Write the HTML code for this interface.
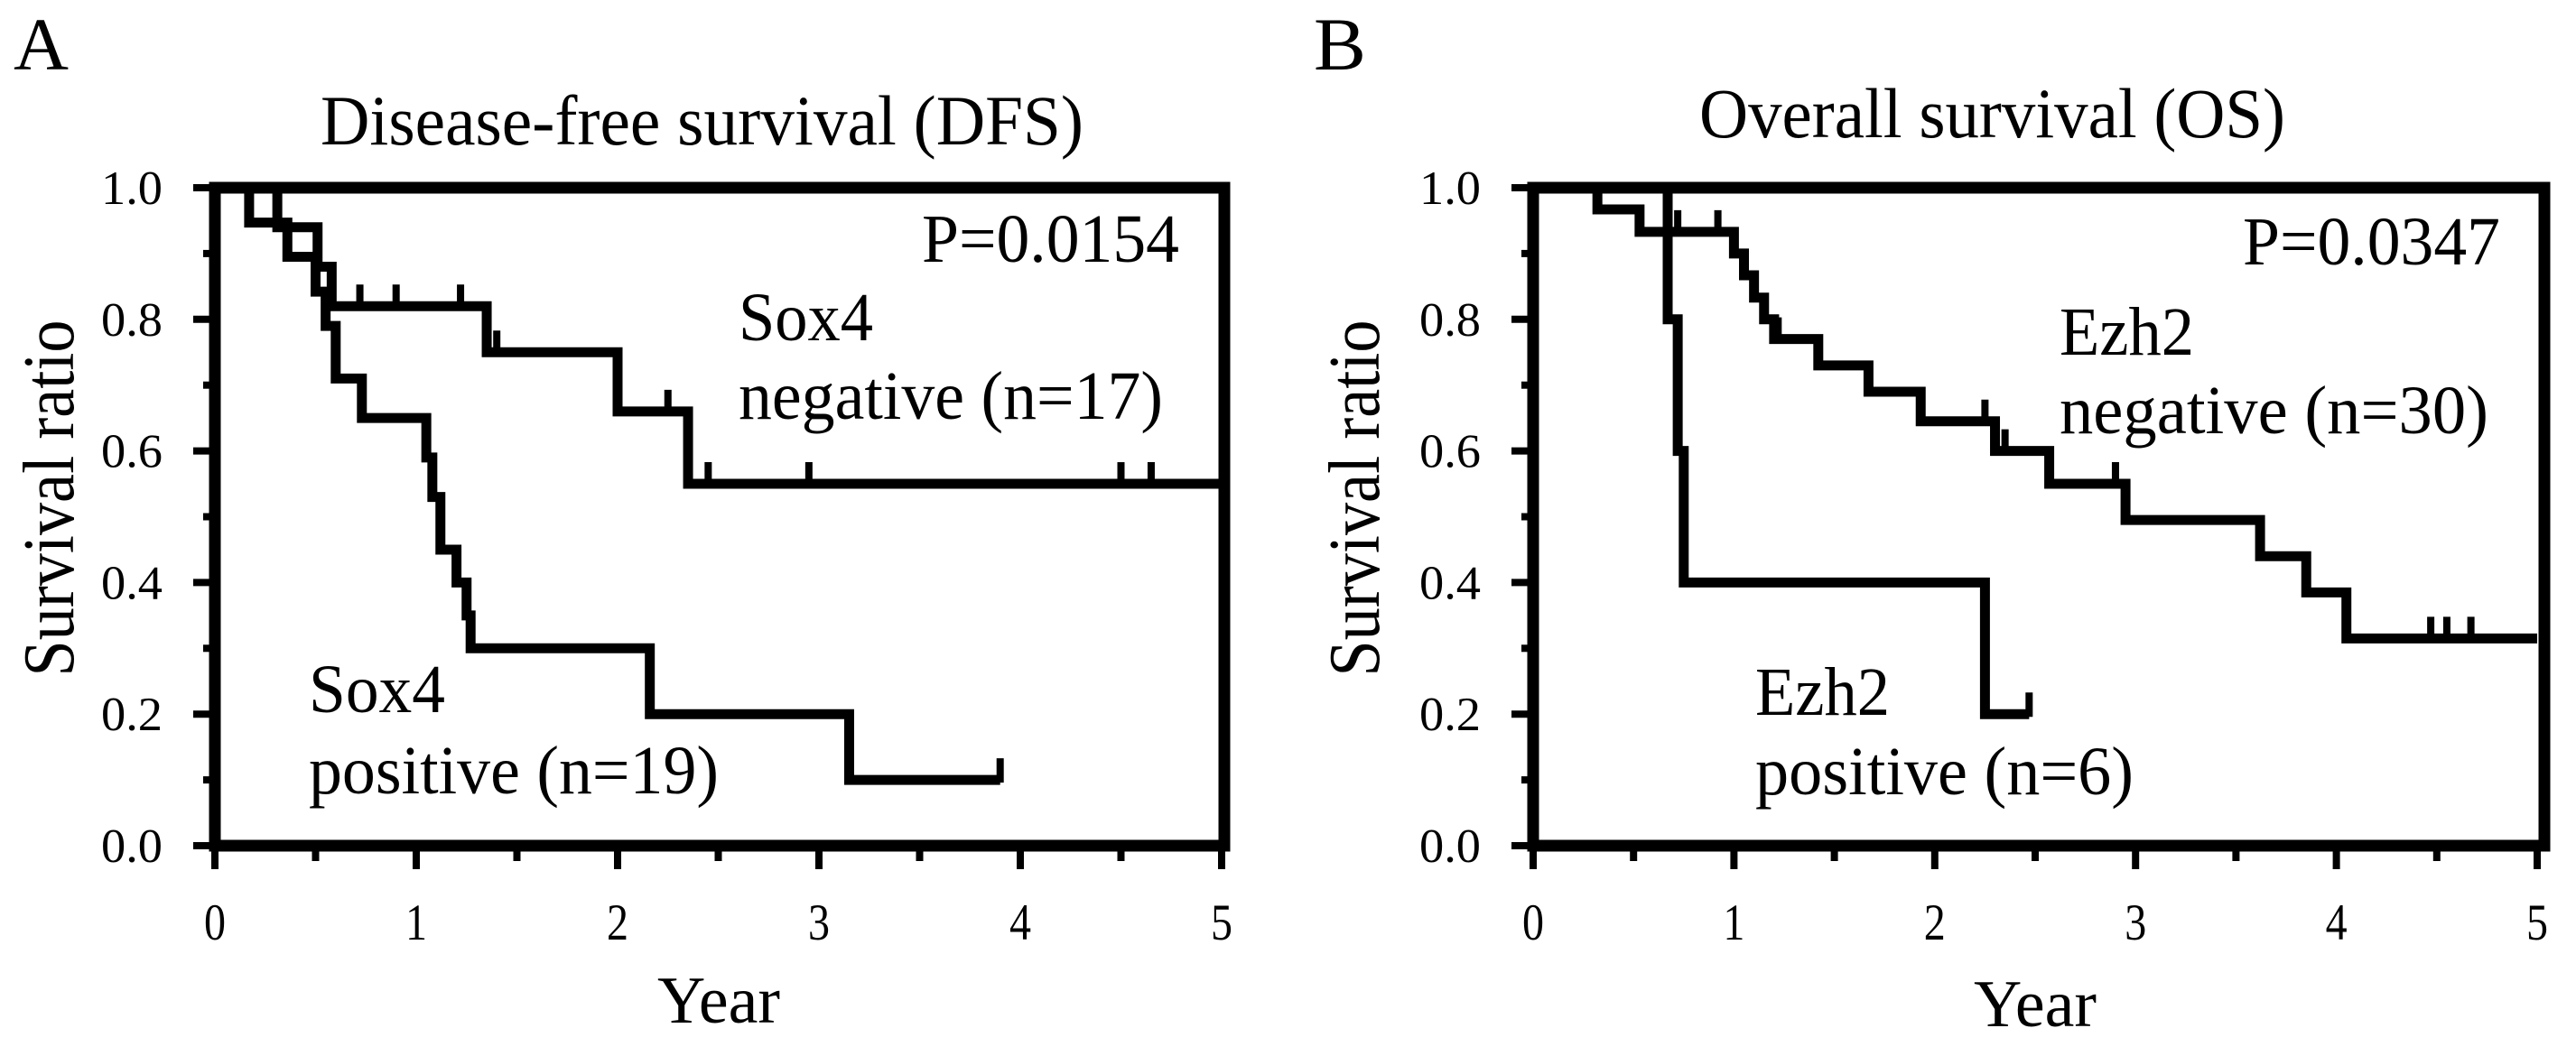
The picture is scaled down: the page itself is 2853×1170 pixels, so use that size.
<!DOCTYPE html>
<html><head><meta charset="utf-8"><style>
html,body{margin:0;padding:0;background:#fff;}
svg{display:block;}
text{font-family:"Liberation Serif",serif;fill:#000;}
</style></head><body>
<svg id="fig" width="2853" height="1170" viewBox="0 0 2853 1170" xmlns="http://www.w3.org/2000/svg"></svg>
<script>
// Panel A data (DFS)
const aNegTimes = [0.31, 0.51, 0.58, 1.35, 2.0, 2.35];
const aNegSurv = [0.94, 0.88, 0.82, 0.75, 0.66, 0.55];
const aNegCensor = [0.72, 0.9, 1.22, 1.4, 2.25, 2.45, 2.95, 4.5, 4.65];
const aNegEnd = 5;
const aPosTimes = [0.17, 0.36, 0.5, 0.55, 0.6, 0.73, 1.05, 1.08, 1.12, 1.2, 1.25, 1.27, 2.16, 3.15];
const aPosSurv = [0.947, 0.895, 0.842, 0.79, 0.71, 0.65, 0.59, 0.53, 0.45, 0.40, 0.35, 0.30, 0.20, 0.10];
const aPosCensor = [3.9];
const aPosEnd = 3.9;
// Panel B data (OS)
const bNegTimes = [0.32, 0.53, 1.0, 1.05, 1.1, 1.15, 1.2, 1.42, 1.67, 1.93, 2.3, 2.57, 2.95, 3.62, 3.85, 4.05];
const bNegSurv = [0.967, 0.933, 0.9, 0.867, 0.833, 0.8, 0.77, 0.73, 0.69, 0.645, 0.60, 0.55, 0.495, 0.44, 0.385, 0.315];
const bNegCensor = [0.72, 0.92, 1.22, 2.25, 2.35, 2.9, 4.47, 4.55, 4.67];
const bNegEnd = 5;
const bPosTimes = [0.67, 0.72, 0.75, 2.25];
const bPosSurv = [0.8, 0.6, 0.4, 0.2];
const bPosCensor = [2.47];
const bPosEnd = 2.47;
// Axis ticks
const xTickLabels = ["0", "1", "2", "3", "4", "5"];
const yTickLabels = ["0.0", "0.2", "0.4", "0.6", "0.8", "1.0"];

const svg = document.getElementById('fig');
const NS = 'http://www.w3.org/2000/svg';
function mk(tag, attrs, parent) {
  const e = document.createElementNS(NS, tag);
  for (const k in attrs) e.setAttribute(k, attrs[k]);
  (parent || svg).appendChild(e);
  return e;
}
function txt(str, attrs, parent) { const t = mk('text', attrs, parent); t.textContent = str; return t; }

const TOP = 208, BOT = 937;
function survAt(times, surv, t) { let s = 1; for (let i = 0; i < times.length; i++) if (times[i] <= t) s = surv[i]; return s; }

function panel(cfg) {
  const g = mk('g', {});
  
  
  const x = v => cfg.x0 + v * (cfg.x5 - cfg.x0) / 5;
  const y = v => BOT - v * (BOT - TOP);
  const fr = mk('rect', {x: cfg.x0, y: TOP, width: cfg.right - cfg.x0, height: BOT - TOP, fill: 'none', stroke: '#000', 'stroke-width': 13}, g);
  
  
  for (let i = 0; i <= 10; i++) {
    const v = i / 10, major = i % 2 === 0;
    const tk = mk('line', {x1: cfg.x0 - (major ? 24 : 13), x2: cfg.x0, y1: y(v), y2: y(v), stroke: '#000', 'stroke-width': 8}, g);
    
    
  }
  yTickLabels.forEach((lab, i) => {
    const t = txt(lab, {x: cfg.x0 - 58, y: y(i * 0.2) + 18, 'font-size': 53, 'text-anchor': 'end', textLength: 68, lengthAdjust: 'spacingAndGlyphs'}, g);
    
    
  });
  for (let i = 0; i <= 10; i++) {
    const v = i / 2, major = i % 2 === 0;
    const tk = mk('line', {x1: x(v), x2: x(v), y1: BOT, y2: BOT + (major ? 26 : 17), stroke: '#000', 'stroke-width': 8}, g);
    
    
  }
  xTickLabels.forEach((lab, i) => {
    const t = txt(lab, {x: x(i), y: 1041, 'font-size': 57, 'text-anchor': 'middle', textLength: 24, lengthAdjust: 'spacingAndGlyphs'}, g);
    
    
  });
  cfg.series.forEach(s => {
    let d = `M${x(0)},${y(1)}`;
    s.times.forEach((t, i) => { d += ` H${x(t)} V${y(s.surv[i])}`; });
    d += ` H${x(s.end)}`;
    const p = mk('path', {d: d, fill: 'none', stroke: '#000', 'stroke-width': 11, 'stroke-linejoin': 'miter'}, g);
    
    
    s.censor.forEach(c => {
      const sv = survAt(s.times, s.surv, c);
      const m = mk('line', {x1: x(c), x2: x(c), y1: y(sv) + 3, y2: y(sv) - 24, stroke: '#000', 'stroke-width': 8}, g);
      
      
    });
  });
  cfg.labels.forEach(l => {
    const t = txt(l.s, {x: l.x, y: l.y, 'font-size': l.fs, 'text-anchor': l.a || 'start', textLength: l.w, lengthAdjust: 'spacingAndGlyphs'}, g);
    
    
  });
  const yl = txt('Survival ratio', {x: 0, y: 0, 'font-size': 80, 'text-anchor': 'middle', textLength: 395, lengthAdjust: 'spacingAndGlyphs', transform: `translate(${cfg.ylx},552) rotate(-90)`}, g);
  
  
}

panel({
  name: 'panel-a', x0: 238, x5: 1353, right: 1356, ylx: 81,
  series: [
    {name: 'sox4-negative-curve', times: aNegTimes, surv: aNegSurv, censor: aNegCensor, end: aNegEnd},
    {name: 'sox4-positive-curve', times: aPosTimes, surv: aPosSurv, censor: aPosCensor, end: aPosEnd}
  ],
  labels: [
    {s: 'A', x: 15, y: 77, fs: 83, w: 61, n: 'panel-letter'},
    {s: 'Disease-free survival (DFS)', x: 355, y: 160, fs: 78, w: 845, n: 'chart-title'},
    {s: 'P=0.0154', x: 1306, y: 290, fs: 76, w: 285, a: 'end', n: 'p-value'},
    {s: 'Sox4', x: 818, y: 377, fs: 76, w: 149, n: 'negative-label'},
    {s: 'negative (n=17)', x: 818, y: 464, fs: 76, w: 470, n: 'negative-label-n'},
    {s: 'Sox4', x: 342, y: 789, fs: 76, w: 151, n: 'positive-label'},
    {s: 'positive (n=19)', x: 342, y: 879, fs: 76, w: 454, n: 'positive-label-n'},
    {s: 'Year', x: 796, y: 1133, fs: 74, w: 136, a: 'middle', n: 'x-axis-title'}
  ]
});
panel({
  name: 'panel-b', x0: 1698, x5: 2810, right: 2818, ylx: 1527,
  series: [
    {name: 'ezh2-negative-curve', times: bNegTimes, surv: bNegSurv, censor: bNegCensor, end: bNegEnd},
    {name: 'ezh2-positive-curve', times: bPosTimes, surv: bPosSurv, censor: bPosCensor, end: bPosEnd}
  ],
  labels: [
    {s: 'B', x: 1455, y: 77, fs: 83, w: 58, n: 'panel-letter'},
    {s: 'Overall survival (OS)', x: 1882, y: 152, fs: 78, w: 649, n: 'chart-title'},
    {s: 'P=0.0347', x: 2769, y: 293, fs: 76, w: 285, a: 'end', n: 'p-value'},
    {s: 'Ezh2', x: 2281, y: 393, fs: 76, w: 149, n: 'negative-label'},
    {s: 'negative (n=30)', x: 2281, y: 480, fs: 76, w: 475, n: 'negative-label-n'},
    {s: 'Ezh2', x: 1944, y: 792, fs: 76, w: 149, n: 'positive-label'},
    {s: 'positive (n=6)', x: 1944, y: 880, fs: 76, w: 419, n: 'positive-label-n'},
    {s: 'Year', x: 2254, y: 1137, fs: 74, w: 136, a: 'middle', n: 'x-axis-title'}
  ]
});
</script>
</body></html>
